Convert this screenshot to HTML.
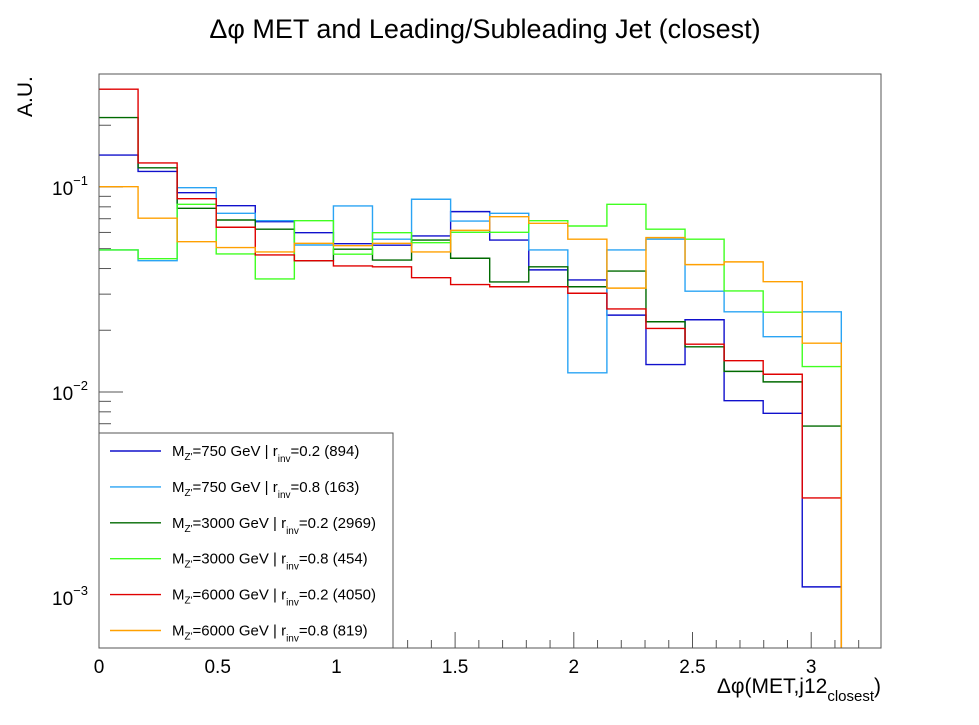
<!DOCTYPE html>
<html><head><meta charset="utf-8"><style>
html,body{margin:0;padding:0;background:#fff;}
svg text{font-family:"Liberation Sans",sans-serif;}
</style></head><body>
<svg id="chart" width="979" height="720" xmlns="http://www.w3.org/2000/svg">
<rect width="979" height="720" fill="#fff"/>
<text x="485" y="38" font-size="27" text-anchor="middle">Δφ MET and Leading/Subleading Jet (closest)</text>
<text transform="translate(32,117) rotate(-90)" font-size="21">A.U.</text>
<text x="881" y="693" font-size="21" text-anchor="end">Δφ(MET,j12<tspan font-size="15" dy="8">closest</tspan><tspan dy="-8">)</tspan></text>
<g id="axes"></g>
<g id="series"></g>
<rect x="99" y="74" width="782" height="574" fill="none" stroke="#555" stroke-width="1"/>
<g id="legend"></g>
</svg>
<script>
const binWidth = 0.16457;
const nBins = 19;
const seriesNames = ["M_Z=750 GeV | r_inv=0.2 (894)","M_Z=750 GeV | r_inv=0.8 (163)","M_Z=3000 GeV | r_inv=0.2 (2969)","M_Z=3000 GeV | r_inv=0.8 (454)","M_Z=6000 GeV | r_inv=0.2 (4050)","M_Z=6000 GeV | r_inv=0.8 (819)"];
const blue750_02 = [0.143,0.119,0.0938,0.0810,0.0677,0.0598,0.0529,0.0520,0.0577,0.0758,0.0551,0.0394,0.0352,0.0237,0.0136,0.0225,0.00907,0.00787,0.00112];
const lblue750_08 = [0.0493,0.0437,0.0992,0.0744,0.0685,0.0521,0.0808,0.0556,0.0871,0.0682,0.0744,0.0493,0.0124,0.0493,0.0556,0.0310,0.0246,0.0186,0.0246];
const green3000_02 = [0.218,0.124,0.0787,0.0690,0.0622,0.0436,0.0497,0.0440,0.0551,0.0449,0.0344,0.0408,0.0326,0.0389,0.0220,0.0166,0.0126,0.0112,0.00682];
const lgreen3000_08 = [0.0493,0.0447,0.0823,0.0471,0.0356,0.0685,0.0470,0.0598,0.0535,0.0601,0.0601,0.0685,0.0645,0.0823,0.0622,0.0556,0.0311,0.0245,0.0133];
const red6000_02 = [0.300,0.131,0.0877,0.0636,0.0466,0.0437,0.0412,0.0408,0.0361,0.0334,0.0326,0.0326,0.0303,0.0254,0.0204,0.0171,0.0142,0.0122,0.00304];
const orange6000_08 = [0.1003,0.0704,0.0541,0.0506,0.0482,0.0531,0.0517,0.0531,0.0482,0.0614,0.0716,0.0665,0.0556,0.0321,0.0566,0.0418,0.0431,0.0345,0.0173];
const xTicks = [0,0.5,1,1.5,2,2.5,3];
const xTickLabels = ["0","0.5","1","1.5","2","2.5","3"];
const yDecades = [-3,-2,-1];

const NS="http://www.w3.org/2000/svg";
const L=99,R=881,T=74,B=648;
const xMax=3.294, yLogMin=-3.249, yLogMax=-0.449;
function X(v){return L+(v/xMax)*(R-L);}
function Y(v){return B-(Math.log10(v)-yLogMin)/(yLogMax-yLogMin)*(B-T);}
function mk(tag,attrs,parent){const e=document.createElementNS(NS,tag);for(const k in attrs)e.setAttribute(k,attrs[k]);parent.appendChild(e);return e;}

const axes=document.getElementById('axes');
for(let i=0;i<=32;i++){
  const v=i*0.1; const x=X(v); const major=(i%5===0);
  const t=mk('line',{x1:x,x2:x,y1:B,y2:B-(major?16:8),stroke:'#555','stroke-width':1},axes);
  
  
}
xTicks.forEach((v,i)=>{
  const t=mk('text',{x:X(v),y:673,'font-size':19,'text-anchor':'middle'},axes);
  t.textContent=xTickLabels[i];
  
  
});
for(let d=-4;d<=-1;d++){
  for(let m=1;m<=9;m++){
    const v=m*Math.pow(10,d); const y=Y(v);
    if(y<T||y>B) continue;
    const t=mk('line',{x1:L,x2:L+(m===1?24:12),y1:y,y2:y,stroke:'#555','stroke-width':1},axes);
    
    
  }
}
yDecades.forEach(d=>{
  const y=Y(Math.pow(10,d));
  const t=mk('text',{x:88,y:y+8,'font-size':19,'text-anchor':'end'},axes);
  t.innerHTML='10<tspan font-size="13" dy="-10">−'+(-d)+'</tspan>';
  
  
});

const series=[blue750_02,lblue750_08,green3000_02,lgreen3000_08,red6000_02,orange6000_08];
const colors=['#1010cc','#2aa4f4','#006a00','#40ff20','#e00000','#ffa000'];
const seriesKeys=['blue','light-blue','dark-green','light-green','red','orange'];
const sg=document.getElementById('series');
series.forEach((vals,s)=>{
  let d='M'+X(0)+','+Y(vals[0]);
  for(let i=0;i<nBins;i++){
    const y=Y(vals[i]);
    d+=' L'+X(i*binWidth)+','+y+' L'+X((i+1)*binWidth)+','+y;
  }
  d+=' L'+X(nBins*binWidth)+','+B;
  const p=mk('path',{d:d,fill:'none',stroke:colors[s],'stroke-width':1.4},sg);
  
  
});

const lg=document.getElementById('legend');
const box=mk('rect',{x:99,y:433,width:294,height:215,fill:'#fff',stroke:'#555','stroke-width':1},lg);


seriesNames.forEach((n,i)=>{
  const y=451+i*35.9;
  const g=mk('g',{},lg);
  
  
  mk('line',{x1:110,x2:161,y1:y,y2:y,stroke:colors[i],'stroke-width':1.4},g);
  const m=n.match(/M_Z=(\d+) GeV \| r_inv=([\d.]+) \((\d+)\)/);
  const t=mk('text',{x:172,y:y+5,'font-size':15},g);
  t.innerHTML='M<tspan font-size="10" dy="4">Z\'</tspan><tspan dy="-4">='+m[1]+' GeV | r</tspan><tspan font-size="10" dy="6">inv</tspan><tspan dy="-6">='+m[2]+' ('+m[3]+')</tspan>';
});
</script>
</body></html>
